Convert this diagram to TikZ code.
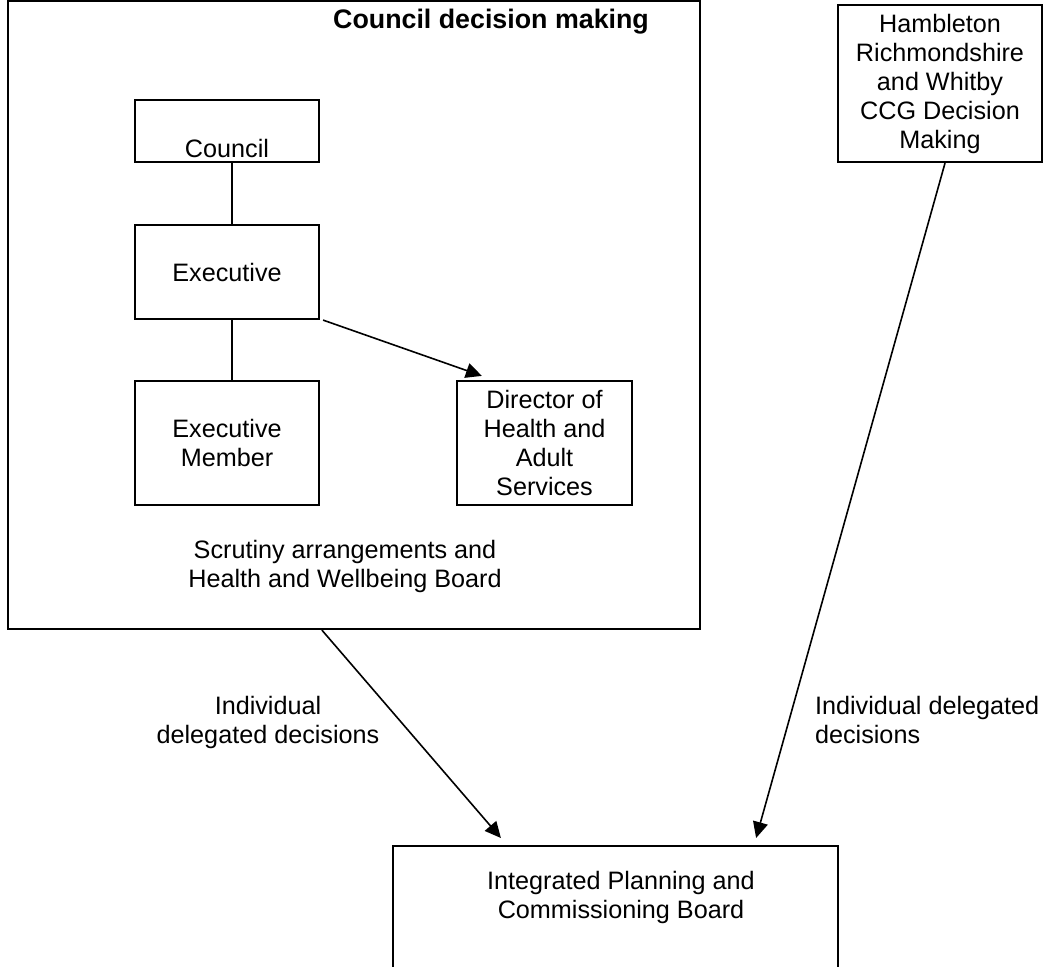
\documentclass[tikz,border=0pt]{standalone}
\usepackage{fontspec}
\setmainfont{Liberation Sans}
\usepackage{tikz}
\usetikzlibrary{calc,positioning,arrows.meta}

\tikzset{
	box/.style={draw, line width=1.1pt, inner sep=2pt, align=center},
	link/.style={line width=.8pt},
	flow/.style={line width=.8pt, -{Triangle[length=8pt,width=7.5pt]}}
}

\begin{document}
\begin{tikzpicture}[x=.5pt, y=-.5pt, font=\fontsize{12.6}{14.5}\selectfont]
			\clip (0,0) rectangle (1049,967);

			% council side
			\node[box, minimum width=346pt, minimum height=314pt] (frame) at (354,315) {};
			\node at (491,22) {\fontsize{13.4}{15}\selectfont\bfseries Council decision making};

			\node[box, minimum width=92pt, minimum height=31pt] (council) at (227,131) {};
			\node at (227,148) {Council};
			\node[box, minimum width=92pt, minimum height=47pt] (exec) at (227,272) {Executive};
			\node[box, minimum width=92pt, minimum height=62pt] (member) at (227,443) {Executive\\Member};
			\node[box, minimum width=87.5pt, minimum height=62pt] (director) at (544.5,443) {Director of\\Health and\\Adult\\Services};
			\node[align=center] (scrutiny) at (345,566) {Scrutiny arrangements and\\Health and Wellbeing Board};

			\draw[link] ([xshift=2.5pt]council.south) -- ([xshift=2.5pt]exec.north);
			\draw[link] ([xshift=2.5pt]exec.south) -- ([xshift=2.5pt]member.north);
			\draw[flow] ([xshift=1.5pt]exec.south east) -- ([xshift=13pt,yshift=2pt]director.north west);

			% CCG side and the joint board
			\node[box, minimum width=102pt, minimum height=78.5pt] (ccg) at (940,83.5) {Hambleton\\Richmondshire\\and Whitby\\CCG Decision\\Making};
			\node[box, minimum width=222.5pt, minimum height=80pt, anchor=north] (ipcb) at (615.5,845) {};
			\node[align=center] at (621,897) {Integrated Planning and\\Commissioning Board};

			\draw[flow] ([xshift=157.5pt]frame.south west) -- ([xshift=54.5pt,yshift=3.5pt]ipcb.north west);
			\draw[flow] ([xshift=2.5pt]ccg.south) -- ([xshift=-41.5pt,yshift=3.5pt]ipcb.north east);
			\node[align=center] at (268,722) {Individual\\delegated decisions};
			\node[anchor=west, align=left] at (808,720) {Individual delegated\\decisions};
		\end{tikzpicture}
\end{document}
